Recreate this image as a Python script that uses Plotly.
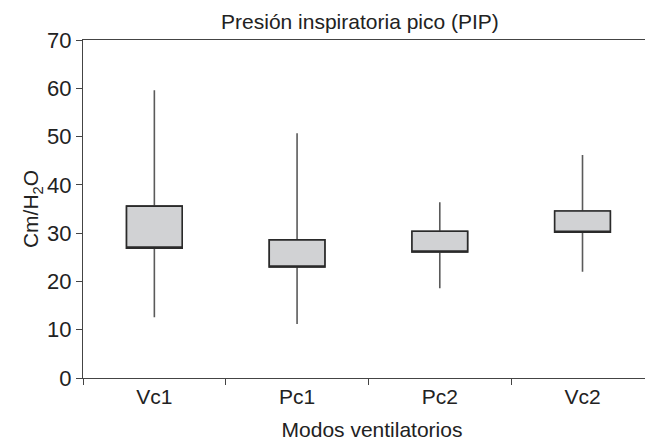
import plotly.graph_objects as go

categories = ["Vc1", "Pc1", "Pc2", "Vc2"]
whisker_low = [12.6, 11.2, 18.6, 22.0]
q1 = [26.9, 23.0, 26.1, 30.2]
q3 = [35.6, 28.6, 30.4, 34.6]
whisker_high = [59.6, 50.7, 36.4, 46.2]
y_ticks = [0, 10, 20, 30, 40, 50, 60, 70]

FONT = "Liberation Sans, Arial, Helvetica, sans-serif"

fig = go.Figure()
# whiskers (gray lines)
fig.add_trace(go.Box(
    x=categories, q1=q1, median=q1, q3=q3,
    lowerfence=whisker_low, upperfence=whisker_high,
    width=0.39, whiskerwidth=0,
    line=dict(color="#5a5a5a", width=1.6),
    fillcolor="rgba(0,0,0,0)", boxpoints=False, hoverinfo="skip",
    showlegend=False,
))
# boxes (dark outline, gray fill)
fig.add_trace(go.Box(
    x=categories, q1=q1, median=q1, q3=q3,
    lowerfence=q1, upperfence=q3,
    width=0.39, whiskerwidth=0,
    line=dict(color="#2a2a2a", width=1.6),
    fillcolor="#d1d2d4", boxpoints=False,
    showlegend=False,
))

fig.update_layout(
    width=653, height=446,
    margin=dict(l=75, r=0, t=32, b=76, autoexpand=False),
    plot_bgcolor="white", paper_bgcolor="white",
    boxmode="overlay",
    font=dict(family=FONT, color="#222222", size=20),
    title=dict(text="Presión inspiratoria pico (PIP)", xref="container", x=0.539,
               xanchor="center", yref="container", y=0.969, yanchor="middle",
               font=dict(size=21, family=FONT, color="#222222")),
    xaxis=dict(
        range=[-0.5, 3.55], showline=True, linecolor="#444444", linewidth=1.3,
        mirror=True, ticks="outside", tickson="boundaries", ticklen=6,
        tickcolor="#444444", tickwidth=1.2, showgrid=False, zeroline=False,
        tickfont=dict(size=21), automargin=False,
        title=dict(text="Modos ventilatorios", font=dict(size=21), standoff=14),
    ),
    yaxis=dict(
        range=[0, 70], tickvals=y_ticks, showline=True, linecolor="#444444",
        linewidth=1.3, ticks="outside", ticklen=6, tickcolor="#444444",
        tickwidth=1.2, showgrid=False, zeroline=False,
        tickfont=dict(size=22), automargin=False,
        title=dict(text="Cm/H<sub>2</sub>O", font=dict(size=21), standoff=2),
    ),
)

fig.write_html("out.html")
